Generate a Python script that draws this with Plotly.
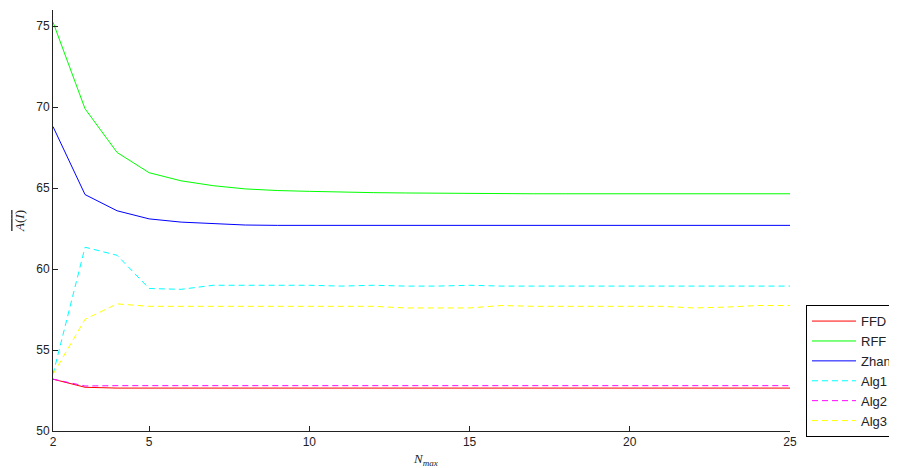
import plotly.graph_objects as go

n_max = list(range(2, 26))
ffd = [53.2, 52.7] + [52.65] * 22
rff = [75.25, 69.9, 67.2, 65.95, 65.45, 65.15, 64.95, 64.85, 64.8, 64.75, 64.72,
       64.7, 64.68, 64.65, 64.65, 64.65, 64.65, 64.65, 64.65, 64.65, 64.65, 64.65,
       64.65, 64.65]
zhang = [68.8, 64.6, 63.6, 63.1, 62.9, 62.8, 62.72, 62.7, 62.7, 62.7, 62.7, 62.7,
         62.7, 62.7, 62.7, 62.7, 62.7, 62.7, 62.7, 62.7, 62.7, 62.7, 62.7, 62.7]
alg1 = [53.5, 61.35, 60.85, 58.8, 58.75, 59.0, 59.0, 59.0, 59.0, 58.95, 59.0, 58.95,
        58.95, 59.0, 58.95, 58.95, 58.95, 58.95, 58.95, 58.95, 58.95, 58.95, 58.95, 58.95]
alg2 = [53.2, 52.78] + [52.8] * 22
alg3 = [53.5, 56.9, 57.85, 57.7, 57.7, 57.7, 57.7, 57.7, 57.7, 57.7, 57.7, 57.6,
        57.6, 57.6, 57.75, 57.7, 57.7, 57.7, 57.7, 57.7, 57.6, 57.65, 57.75, 57.75]

series = [
    ("FFD", ffd, "#ff0000", "solid"),
    ("RFF", rff, "#00ff00", "solid"),
    ("Zhang", zhang, "#0000ff", "solid"),
    ("Alg1", alg1, "#00ffff", "6px,4px"),
    ("Alg2", alg2, "#ff00ff", "6px,4px"),
    ("Alg3", alg3, "#ffff00", "6px,4px"),
]

fig = go.Figure()
for name, vals, color, dash in series:
    fig.add_trace(go.Scatter(x=n_max, y=vals, mode="lines", name=name,
                             line=dict(color=color, width=1, dash=dash)))

axis_font = dict(family="Liberation Sans, Arial", size=12, color="#222")
fig.update_layout(
    width=889, height=460,
    margin=dict(l=45, r=107, t=2, b=37, autoexpand=False),
    plot_bgcolor="white", paper_bgcolor="white",
    showlegend=True,
    legend=dict(x=1.0217, y=0.299, xanchor="left", yanchor="top",
                bordercolor="black", borderwidth=1, bgcolor="white",
                itemwidth=44,
                font=dict(family="Liberation Sans, Arial", size=13, color="#222"),
                tracegroupgap=0),
    xaxis=dict(range=[2, 25], tickvals=[2, 5, 10, 15, 20, 25], ticks="inside",
               ticklen=5, tickcolor="#222", showgrid=False, zeroline=False,
               showline=True, linecolor="#222", linewidth=1, tickfont=axis_font),
    yaxis=dict(range=[50, 76], tickvals=[50, 55, 60, 65, 70, 75], ticks="inside",
               ticklen=5, tickcolor="#222", showgrid=False, zeroline=False,
               showline=True, linecolor="#222", linewidth=1, tickfont=axis_font,
               title=dict(text="<span style=\"text-decoration:overline\"><i>A</i>(<i>I</i>)</span>",
                          standoff=8,
                          font=dict(family="Liberation Serif", size=13, color="#222"))),
    annotations=[dict(text="<i>N</i><sub><i>max</i></sub>", xref="paper", yref="paper",
                      x=0.505, y=0, yshift=-28, xanchor="center", yanchor="middle",
                      showarrow=False,
                      font=dict(family="Liberation Serif", size=13, color="#222"))],
)

fig.write_html("out.html")
